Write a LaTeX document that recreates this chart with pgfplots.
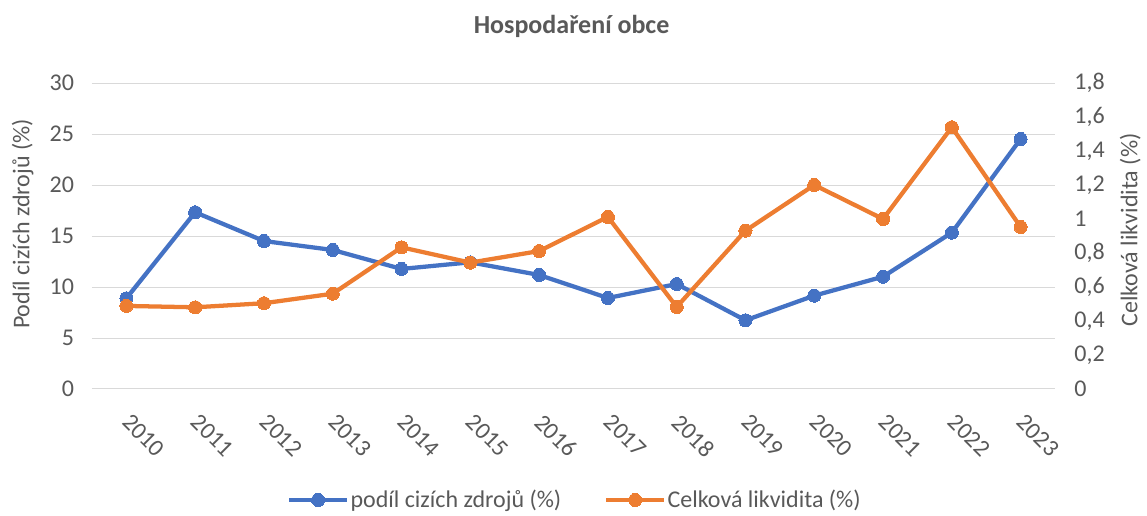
\documentclass[border=0pt]{standalone}
\usepackage{fontspec}
\setmainfont{Carlito}
\usepackage{pgfplots}
\usepackage{pgfplotstable}
\pgfplotsset{compat=1.18}
\definecolor{cblue}{HTML}{4472C4}
\definecolor{corange}{HTML}{ED7D31}
\definecolor{ctext}{HTML}{595959}
\definecolor{cgrid}{HTML}{D9D9D9}

\pgfplotstableread{
x year blue orange
0 2010 8.90 0.489
1 2011 17.34 0.481
2 2012 14.52 0.505
3 2013 13.64 0.561
4 2014 11.78 0.834
5 2015 12.43 0.744
6 2016 11.19 0.812
7 2017 8.93 1.013
8 2018 10.30 0.483
9 2019 6.74 0.932
10 2020 9.16 1.201
11 2021 11.02 1.001
12 2022 15.34 1.541
13 2023 24.53 0.954
}\datatable

\begin{document}
\begin{tikzpicture}[x=1pt,y=1pt]
\useasboundingbox (-69,-95.25) rectangle (791.25,291.75);
\pgfplotsset{
  common/.style={
    scale only axis, width=722.25pt, height=229.3pt,
    at={(0,0)}, anchor=south west,
    xmin=-0.5, xmax=13.5, ymin=0,
    axis line style={draw=none},
    major tick length=0pt,
    tick style={draw=none},
    ticklabel style={font=\fontsize{18}{21}\selectfont, text=ctext},
    label style={font=\fontsize{18}{21}\selectfont, text=ctext},
    /pgf/number format/assume math mode=true,
    /pgf/number format/use comma,
    every axis title shift=0pt,
    clip=false,
  },
  bluestyle/.style={cblue, line width=3.2pt, line join=round, mark=*, mark size=4.9pt, mark options={solid, fill=cblue, draw=cblue, line width=0pt}},
  orangestyle/.style={corange, line width=3.2pt, line join=round, mark=*, mark size=4.9pt, mark options={solid, fill=corange, draw=corange, line width=0pt}},
}
\begin{axis}[common,
  axis x line*=bottom, axis y line*=left,
  ymax=30, ytick={0,5,...,30},
  ymajorgrids, grid style={cgrid, line width=0.75pt},
  xtick={0,...,13},
  xticklabels={2010,2011,2012,2013,2014,2015,2016,2017,2018,2019,2020,2021,2022,2023},
  xticklabel style={rotate=-45, anchor=north west, xshift=12pt, yshift=-6pt},
  yticklabel style={xshift=-10pt},
  ylabel={Podíl cizích zdrojů (\%)},
  ylabel style={at={(axis description cs:-0.0651,0.54)}, anchor=base, rotate=0},
  title={\textbf{Hospodaření obce}},
  title style={at={(axis description cs:0.498,1.1636)}, anchor=base, font=\fontsize{19.5}{22}\selectfont, text=ctext},
]
\addplot[bluestyle] table[x=x,y=blue]{\datatable};
\end{axis}
\begin{axis}[common,
  hide x axis,
  axis y line*=right,
  ymax=1.8, ytick={0,0.2,...,1.8},
  yticklabel style={xshift=11pt, anchor=west},
  ylabel={Celková likvidita (\%)},
  ylabel style={at={(axis description cs:1.0855,0.52)}, anchor=base, rotate=0},
  legend style={at={(axis description cs:0.501,-0.363)}, anchor=center, draw=none, fill=none,
    legend columns=2, font=\fontsize{18}{21}\selectfont, text=ctext,
    nodes={inner xsep=1pt},
    /tikz/every even column/.append style={column sep=31pt},
    legend cell align=left, inner sep=0pt},
  legend image code/.code={\draw[#1, mark repeat=2, mark phase=2] plot coordinates {(0pt,0pt) (21.75pt,0pt) (43.5pt,0pt)};},
]
\addlegendimage{bluestyle}
\addlegendentry{podíl cizích zdrojů (\%)}
\addplot[orangestyle] table[x=x,y=orange]{\datatable};
\addlegendentry{Celková likvidita (\%)}
\end{axis}
\end{tikzpicture}
\end{document}
